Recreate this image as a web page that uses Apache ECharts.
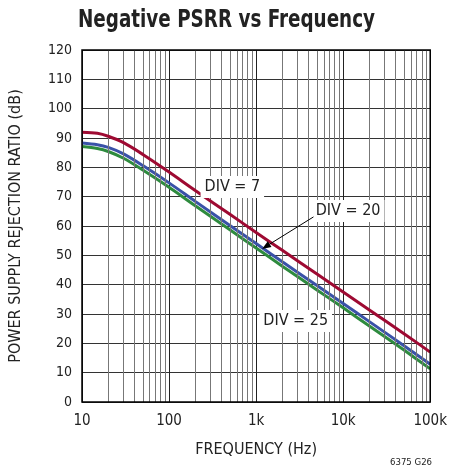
<!DOCTYPE html>
<html><head><meta charset="utf-8">
<script src="https://cdn.jsdelivr.net/npm/echarts@6/dist/echarts.min.js"></script>
<style>html,body{margin:0;padding:0;background:#fff}#c{width:450px;height:469px}</style>
</head><body><div id="c"></div>
<script>
var freqs = [10, 15, 20, 30, 50, 100, 200, 500, 1000, 2000, 5000, 10000, 20000, 50000, 100000];
var div7  = [92.0, 91.6, 90.6, 88.4, 84.4, 78.4, 72.1, 64.0, 57.8, 51.7, 43.6, 37.5, 31.4, 23.3, 17.0];
var div20 = [88.3, 87.7, 86.8, 84.6, 80.6, 74.7, 68.4, 60.2, 54.0, 47.8, 39.7, 33.6, 27.4, 19.2, 12.9];
var div25 = [87.1, 86.4, 85.4, 83.1, 79.1, 73.2, 66.9, 58.7, 52.5, 46.3, 38.2, 32.1, 25.9, 17.7, 11.3];
var xTickLabels = {10: '10', 100: '100', 1000: '1k', 10000: '10k', 100000: '100k'};
var minorGrid = [];
[10, 100, 1000, 10000].forEach(function (d) { for (var k = 2; k <= 9; k++) minorGrid.push(d * k); });

var FONT = "'DejaVu Sans Condensed','Liberation Sans',sans-serif";
function pairs(ys) { return freqs.map(function (f, i) { return [f, ys[i]]; }); }

var chart = echarts.init(document.getElementById('c'), null, {renderer: 'canvas'});
var option = {
  animation: false,
  backgroundColor: '#fff',
  grid: {left: 81, right: 17, top: 50, bottom: 67, show: true, borderColor: '#000', borderWidth: 1.5, z: 10},
  xAxis: {
    type: 'log', logBase: 10, min: 10, max: 100000,
    name: 'FREQUENCY (Hz)', nameLocation: 'middle', nameGap: 40,
    nameTextStyle: {fontFamily: FONT, fontSize: 16, color: '#222'},
    axisLine: {show: false}, axisTick: {show: false},
    axisLabel: {fontFamily: FONT, fontSize: 15, color: '#222', margin: 12,
      formatter: function (v) { return xTickLabels[Math.round(v)] || ''; }},
    splitLine: {show: true, lineStyle: {color: '#222', width: 1}}
  },
  yAxis: {
    type: 'value', min: 0, max: 120, interval: 10,
    name: 'POWER SUPPLY REJECTION RATIO (dB)', nameLocation: 'middle', nameGap: 58,
    nameTextStyle: {fontFamily: FONT, fontSize: 16, color: '#222'},
    axisLine: {show: false}, axisTick: {show: false},
    axisLabel: {fontFamily: FONT, fontSize: 14, color: '#222', margin: 10},
    splitLine: {show: true, lineStyle: {color: '#333', width: 1}}
  },
  series: [
    {type: 'line', data: [], silent: true, markLine: {silent: true, symbol: ['none', 'none'], label: {show: false},
      lineStyle: {color: '#777', width: 1, type: 'solid'},
      data: minorGrid.map(function (v) { return {xAxis: v}; })}},
    {name: 'DIV = 25', type: 'line', data: pairs(div25), smooth: 0.3, showSymbol: false, lineStyle: {color: '#2e8b3e', width: 3}, z: 3},
    {name: 'DIV = 20', type: 'line', data: pairs(div20), smooth: 0.3, showSymbol: false, lineStyle: {color: '#3a52a8', width: 3}, z: 4},
    {name: 'DIV = 7', type: 'line', data: pairs(div7), smooth: 0.3, showSymbol: false, lineStyle: {color: '#9e0a32', width: 3}, z: 5}
  ]
};
chart.setOption(option);

function px(f, db) { return chart.convertToPixel({gridIndex: 0}, [f, db]); }
var p7 = px(533, 73.3), p20 = px(11400, 65.1), p25 = px(2850, 27.6);
var a0 = px(4560, 63.1), a1 = px(1170, 52.2);
function lbl(p, t) {
  return {type: 'text', x: p[0], y: p[1], z: 100,
    style: {text: t, font: '16px ' + FONT, fill: '#222', align: 'center', verticalAlign: 'middle',
      backgroundColor: '#fff', padding: [3, 4]}};
}
var cv = document.createElement('canvas').getContext('2d');
var titleFont = 'bold 25px ' + FONT;
cv.font = titleFont;
var titleScale = 297 / cv.measureText('Negative PSRR vs Frequency').width;

var ang = Math.atan2(a1[1] - a0[1], a1[0] - a0[0]);
var hl = 9, hw = 3.5;
var tip = a1, bx = tip[0] - hl * Math.cos(ang), by = tip[1] - hl * Math.sin(ang);
chart.setOption({graphic: [
  {type: 'text', x: 226.5, y: 20, scaleX: titleScale, z: 100, style: {text: 'Negative PSRR vs Frequency', font: titleFont, fill: '#222', align: 'center', verticalAlign: 'middle'}},
  {type: 'text', x: 432, y: 463, z: 100, style: {text: '6375 G26', font: '9.5px ' + FONT, fill: '#222', align: 'right', verticalAlign: 'middle'}},
  lbl(p7, 'DIV = 7'), lbl(p20, 'DIV = 20'), lbl(p25, 'DIV = 25'),
  {type: 'line', z: 101, shape: {x1: a0[0], y1: a0[1], x2: bx, y2: by}, style: {stroke: '#000', lineWidth: 1}},
  {type: 'polygon', z: 101, shape: {points: [tip,
    [bx + hw * Math.sin(ang), by - hw * Math.cos(ang)],
    [bx - hw * Math.sin(ang), by + hw * Math.cos(ang)]]}, style: {fill: '#000'}}
]});
</script></body></html>
